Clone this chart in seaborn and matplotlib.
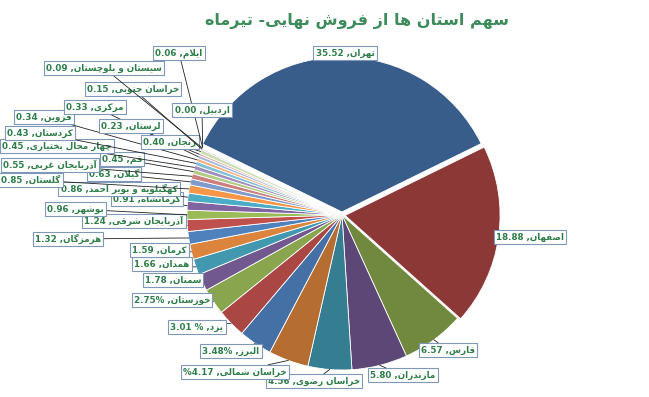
import matplotlib
matplotlib.use("Agg")
import matplotlib.pyplot as plt
import seaborn as sns
import numpy as np

# ---- data ----
title = "سهم استان ها از فروش نهایی- تیرماه"

provinces = [
    "تهران", "اصفهان", "فارس", "مازندران", "خراسان رضوی", "خراسان شمالی",
    "البرز", "یزد", "خوزستان", "سمنان", "همدان", "کرمان", "هرمزگان",
    "آذربایجان شرقی", "بوشهر", "کرمانشاه", "کهگیلویه و بویر احمد", "گلستان",
    "گیلان", "آذربایجان غربی", "قم", "چهار محال بختیاری", "کردستان", "قزوین",
    "مرکزی", "لرستان", "زنجان", "خراسان جنوبی", "سیستان و بلوچستان",
    "ایلام", "اردبیل",
]
shares = [
    35.52, 18.88, 6.57, 5.80, 4.56, 4.17, 3.48, 3.01, 2.75, 1.78, 1.66,
    1.59, 1.32, 1.24, 0.96, 0.91, 0.86, 0.85, 0.63, 0.55, 0.45, 0.45,
    0.43, 0.34, 0.33, 0.23, 0.40, 0.15, 0.09, 0.06, 0.00,
]
# value text exactly as printed in the labels
value_text = [
    "35.52", "18.88", "6.57", "5.80", "4.56", "%4.17", "3.48%", "3.01 %",
    "2.75%", "1.78", "1.66", "1.59", "1.32", "1.24", "0.96", "0.91", "0.86",
    "0.85", "0.63", "0.55", "0.45", "0.45", "0.43", "0.34", "0.33", "0.23",
    "0.40", "0.15", "0.09", "0.06", "0.00",
]

colors = [
    "#385D8A", "#8C3836", "#71893F", "#5C4776", "#357D91", "#B66D31",
    "#4470A6", "#AA4643", "#89A54E", "#71588F", "#4198AF", "#DB843D",
    "#4F81BD", "#C0504D", "#9BBB59", "#8064A2", "#4BACC6", "#F79646",
    "#7F9BCB", "#CD7F7D", "#B3CB84", "#A08FBE", "#80C1D7", "#F9B07C",
    "#A7B9DC", "#DBA8A6", "#CBDCAE", "#BEB2D1", "#AAD4E3", "#FAC8A5",
    "#C5D2E8",
]

# label box centres, image pixels (x from left, y from top)
label_xy = [
    (345, 53), (530, 237), (448, 350), (403, 375), (314, 381), (235, 372),
    (231, 351), (197, 327), (172, 300), (173, 280), (162, 264), (159, 250),
    (68, 239), (134, 221), (75, 209), (147, 199), (119, 189), (31, 180),
    (114, 174), (50, 165), (122, 159), (57, 146), (40, 133), (44, 117),
    (95, 107), (131, 126), (170, 142), (133, 89), (104, 68), (179, 53),
    (202, 110),
]

# ---- minimal Arabic/Persian shaping (matplotlib has no bidi/shaping) ----
FORMS = {
    "ا": (0xFE8D, 0xFE8E, None, None), "آ": (0xFE81, 0xFE82, None, None),
    "د": (0xFEA9, 0xFEAA, None, None), "ذ": (0xFEAB, 0xFEAC, None, None),
    "ر": (0xFEAD, 0xFEAE, None, None), "ز": (0xFEAF, 0xFEB0, None, None),
    "ژ": (0xFB8A, 0xFB8B, None, None), "و": (0xFEED, 0xFEEE, None, None),
    "ب": (0xFE8F, 0xFE90, 0xFE91, 0xFE92), "پ": (0xFB56, 0xFB57, 0xFB58, 0xFB59),
    "ت": (0xFE95, 0xFE96, 0xFE97, 0xFE98), "ث": (0xFE99, 0xFE9A, 0xFE9B, 0xFE9C),
    "ج": (0xFE9D, 0xFE9E, 0xFE9F, 0xFEA0), "چ": (0xFB7A, 0xFB7B, 0xFB7C, 0xFB7D),
    "ح": (0xFEA1, 0xFEA2, 0xFEA3, 0xFEA4), "خ": (0xFEA5, 0xFEA6, 0xFEA7, 0xFEA8),
    "س": (0xFEB1, 0xFEB2, 0xFEB3, 0xFEB4), "ش": (0xFEB5, 0xFEB6, 0xFEB7, 0xFEB8),
    "ص": (0xFEB9, 0xFEBA, 0xFEBB, 0xFEBC), "ض": (0xFEBD, 0xFEBE, 0xFEBF, 0xFEC0),
    "ط": (0xFEC1, 0xFEC2, 0xFEC3, 0xFEC4), "ظ": (0xFEC5, 0xFEC6, 0xFEC7, 0xFEC8),
    "ع": (0xFEC9, 0xFECA, 0xFECB, 0xFECC), "غ": (0xFECD, 0xFECE, 0xFECF, 0xFED0),
    "ف": (0xFED1, 0xFED2, 0xFED3, 0xFED4), "ق": (0xFED5, 0xFED6, 0xFED7, 0xFED8),
    "ک": (0xFB8E, 0xFB8F, 0xFB90, 0xFB91), "گ": (0xFB92, 0xFB93, 0xFB94, 0xFB95),
    "ل": (0xFEDD, 0xFEDE, 0xFEDF, 0xFEE0), "م": (0xFEE1, 0xFEE2, 0xFEE3, 0xFEE4),
    "ن": (0xFEE5, 0xFEE6, 0xFEE7, 0xFEE8), "ه": (0xFEE9, 0xFEEA, 0xFEEB, 0xFEEC),
    "ی": (0xFBFC, 0xFBFD, 0xFBFE, 0xFBFF), "ئ": (0xFE89, 0xFE8A, 0xFE8B, 0xFE8C),
}
LAM_ALEF = {"LA": (0xFEFB, 0xFEFC), "LAA": (0xFEF5, 0xFEF6)}


def dual(c):
    return c in FORMS and FORMS[c][2] is not None


def shape(text):
    items = []
    i = 0
    while i < len(text):
        c = text[i]
        if c == "ل" and i + 1 < len(text) and text[i + 1] in ("ا", "آ"):
            items.append("LA" if text[i + 1] == "ا" else "LAA")
            i += 2
        else:
            items.append(c)
            i += 1
    out = []
    for k, c in enumerate(items):
        prev = items[k - 1] if k > 0 else None
        nxt = items[k + 1] if k + 1 < len(items) else None
        jp = prev is not None and dual(prev)
        if c in LAM_ALEF:
            iso, fin = LAM_ALEF[c]
            out.append(chr(fin if jp else iso))
            continue
        if c not in FORMS:
            out.append(c)
            continue
        f = FORMS[c]
        jn = dual(c) and nxt is not None and (nxt in FORMS or nxt in LAM_ALEF)
        if jp and jn:
            g = f[3]
        elif jp:
            g = f[1]
        elif jn:
            g = f[2]
        else:
            g = f[0]
        out.append(chr(g))
    return "".join(reversed(out))


# ---- plot ----
sns.set_theme(style="white")
plt.rcParams["font.family"] = ["DejaVu Sans"]

W, H = 649, 397
cx, cy, R = 342, 215, 155

fig = plt.figure(figsize=(W / 100, H / 100), dpi=100)
fig.patch.set_facecolor("white")
ax = fig.add_axes([(cx - R) / W, (H - cy - R) / H, 2 * R / W, 2 * R / H])

explode = [0.02, 0.02] + [0] * (len(shares) - 2)
wedges, _ = ax.pie(shares, colors=colors, startangle=154, counterclock=False,
                   explode=explode,
                   wedgeprops=dict(edgecolor="white", linewidth=0.6))
ax.set_xlim(-1, 1)
ax.set_ylim(-1, 1)
for w in wedges:
    w.set_clip_on(False)

label_color = "#2E7D4A"
for i, w in enumerate(wedges):
    mid = np.deg2rad((w.theta1 + w.theta2) / 2)
    x0 = w.center[0] + w.r * np.cos(mid)
    y0 = w.center[1] + w.r * np.sin(mid)
    px, py = label_xy[i]
    text = value_text[i] + " ," + shape(provinces[i])
    ax.annotate(text, xy=(x0, y0), xytext=(px, H - py),
                textcoords="figure pixels", ha="center", va="center",
                fontsize=6.3, fontweight="bold", color=label_color,
                bbox=dict(boxstyle="square,pad=0.25", fc="white",
                          ec="#7F97B9", lw=0.8),
                arrowprops=dict(arrowstyle="-", color="#222222", lw=0.6,
                                shrinkA=0, shrinkB=0),
                annotation_clip=False)

fig.text(357 / W, 1 - 21 / H, shape(title), ha="center", va="center",
         fontsize=11.5, fontweight="bold", color="#3D8B5A")

fig.savefig("out.png", dpi=100, facecolor="white")
